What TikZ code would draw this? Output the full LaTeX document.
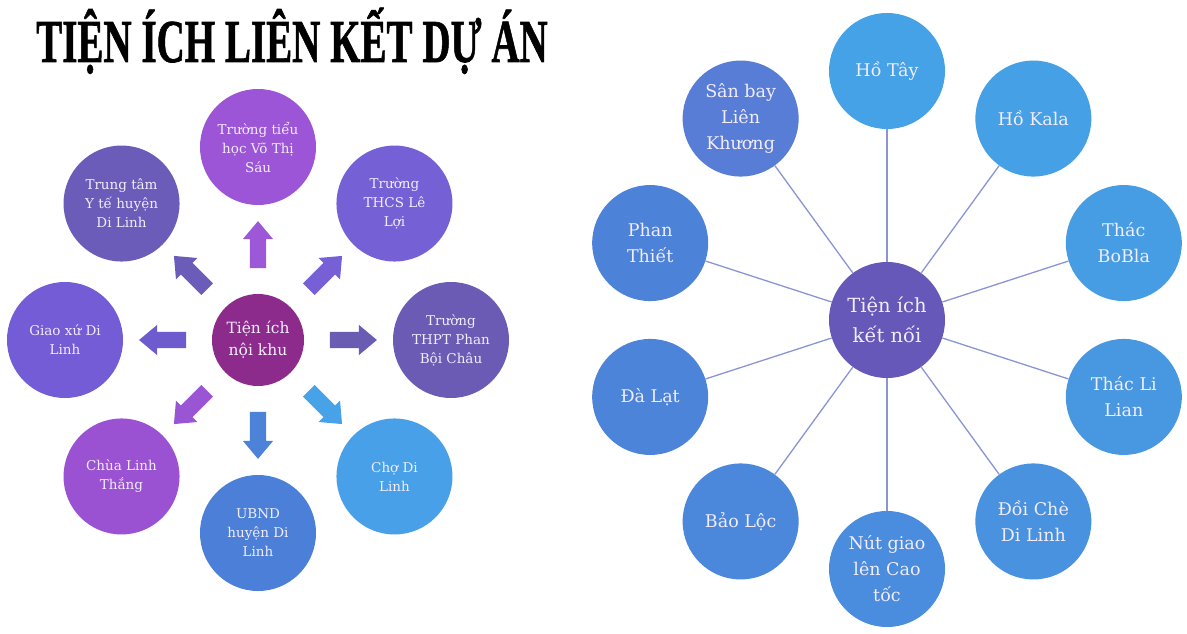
\documentclass[tikz,border=0pt]{standalone}
\usepackage{fontspec}
\setmainfont{DejaVu Serif}
\newfontfamily\titlefont[FakeBold=1.2]{Liberation Serif}
\usetikzlibrary{shapes.arrows,calc}
\definecolor{txt}{HTML}{F2ECFB}
\definecolor{lnk}{HTML}{8A95D6}
\definecolor{cL0}{HTML}{8C2B8C}
\definecolor{cL1}{HTML}{9B55D6}
\definecolor{cL2}{HTML}{7560D6}
\definecolor{cL3}{HTML}{6B5BB5}
\definecolor{cL4}{HTML}{47A0E8}
\definecolor{cL5}{HTML}{4C80D8}
\definecolor{cL6}{HTML}{9A52D2}
\definecolor{cL7}{HTML}{735CD6}
\definecolor{cL8}{HTML}{6A5CB8}
\definecolor{aL1}{HTML}{9C58D6}
\definecolor{aL2}{HTML}{7760D6}
\definecolor{aL3}{HTML}{6A5CB2}
\definecolor{aL4}{HTML}{48A2E8}
\definecolor{aL5}{HTML}{4C82D8}
\definecolor{aL6}{HTML}{9A55D4}
\definecolor{aL7}{HTML}{6E5CCF}
\definecolor{aL8}{HTML}{6A5CB8}
\definecolor{cR0}{HTML}{6558B8}
\definecolor{cR1}{HTML}{45A2E6}
\definecolor{cR2}{HTML}{46A0E5}
\definecolor{cR3}{HTML}{479DE3}
\definecolor{cR4}{HTML}{4898E1}
\definecolor{cR5}{HTML}{4992DF}
\definecolor{cR6}{HTML}{4A8CDD}
\definecolor{cR7}{HTML}{4B87DB}
\definecolor{cR8}{HTML}{4C84D9}
\definecolor{cR9}{HTML}{4D82D9}
\definecolor{cR10}{HTML}{577DD6}
\tikzset{
  leftbubble/.style={circle, fill=#1, minimum size=116pt, inner sep=0pt, text=txt, align=center, font=\fontsize{13.5}{19}\selectfont},
  leftcenter/.style={circle, fill=#1, minimum size=92pt, inner sep=0pt, text=txt, align=center, font=\fontsize{15.5}{22}\selectfont},
  rightbubble/.style={circle, fill=#1, minimum size=116pt, inner sep=0pt, text=txt, align=center, font=\fontsize{17.5}{26}\selectfont},
  rightcenter/.style={circle, fill=#1, minimum size=116pt, inner sep=0pt, text=txt, align=center, font=\fontsize{19.5}{30}\selectfont},
  blockarrow/.style={single arrow, fill=#1, draw=none, minimum height=47pt, minimum width=30pt, inner sep=8pt, single arrow head extend=7pt, single arrow tip angle=80},
  linkline/.style={draw=lnk, line width=1.3pt},
}
\begin{document}
\begin{tikzpicture}[x=1pt,y=1pt]
\useasboundingbox (0,0) rectangle (1187,633);
\fill[white] (0,0) rectangle (1187,633);
% title
\node[anchor=base, inner sep=0pt] (title) at (292,571) {\scalebox{0.64}[1]{\titlefont\bfseries\fontsize{61}{61}\selectfont TIỆN ÍCH LIÊN KẾT DỰ ÁN}};
% ---------------- left diagram
\coordinate (LC) at (258,293);
\node[leftcenter=cL0] (l0) at (LC) {Tiện ích\\nội khu};
\node[leftbubble=cL1] (l1) at ($(LC)+(90:193)$) {Trường tiểu\\học Võ Thị\\Sáu};
\node[leftbubble=cL2] (l2) at ($(LC)+(45:193)$) {Trường\\THCS Lê\\Lợi};
\node[leftbubble=cL3] (l3) at ($(LC)+(0:193)$) {Trường\\THPT Phan\\Bội Châu};
\node[leftbubble=cL4] (l4) at ($(LC)+(-45:193)$) {Chợ Di\\Linh};
\node[leftbubble=cL5] (l5) at ($(LC)+(-90:193)$) {UBND\\huyện Di\\Linh};
\node[leftbubble=cL6] (l6) at ($(LC)+(-135:193)$) {Chùa Linh\\Thắng};
\node[leftbubble=cL7] (l7) at ($(LC)+(180:193)$) {Giao xứ Di\\Linh};
\node[leftbubble=cL8] (l8) at ($(LC)+(135:193)$) {Trung tâm\\Y tế huyện\\Di Linh};
% block arrows
\node[blockarrow=aL1, rotate=90] (a1) at ($(LC)+(90:90.5)$) {};
\node[blockarrow=aL2, rotate=45] (a2) at ($(LC)+(45:90.5)$) {};
\node[blockarrow=aL3, rotate=0] (a3) at ($(LC)+(0:90.5)$) {};
\node[blockarrow=aL4, rotate=-45] (a4) at ($(LC)+(-45:90.5)$) {};
\node[blockarrow=aL5, rotate=-90] (a5) at ($(LC)+(-90:90.5)$) {};
\node[blockarrow=aL6, rotate=-135] (a6) at ($(LC)+(-135:90.5)$) {};
\node[blockarrow=aL7, rotate=180] (a7) at ($(LC)+(180:90.5)$) {};
\node[blockarrow=aL8, rotate=135] (a8) at ($(LC)+(135:90.5)$) {};
% ---------------- right diagram
\coordinate (RC) at (887,313);
\node[rightcenter=cR0] (r0) at (RC) {Tiện ích\\kết nối};
\node[rightbubble=cR1] (r1) at ($(RC)+(90:249)$) {Hồ Tây};
\node[rightbubble=cR2] (r2) at ($(RC)+(54:249)$) {Hồ Kala};
\node[rightbubble=cR3] (r3) at ($(RC)+(18:249)$) {Thác\\BoBla};
\node[rightbubble=cR4] (r4) at ($(RC)+(-18:249)$) {Thác Li\\Lian};
\node[rightbubble=cR5] (r5) at ($(RC)+(-54:249)$) {Đồi Chè\\Di Linh};
\node[rightbubble=cR6] (r6) at ($(RC)+(-90:249)$) {Nút giao\\lên Cao\\tốc};
\node[rightbubble=cR7] (r7) at ($(RC)+(-126:249)$) {Bảo Lộc};
\node[rightbubble=cR8] (r8) at ($(RC)+(-162:249)$) {Đà Lạt};
\node[rightbubble=cR9] (r9) at ($(RC)+(162:249)$) {Phan\\Thiết};
\node[rightbubble=cR10] (r10) at ($(RC)+(126:249)$) {Sân bay\\Liên\\Khương};
\foreach \i in {1,...,10} {\draw[linkline] (r0) -- (r\i);}
\end{tikzpicture}
\end{document}
